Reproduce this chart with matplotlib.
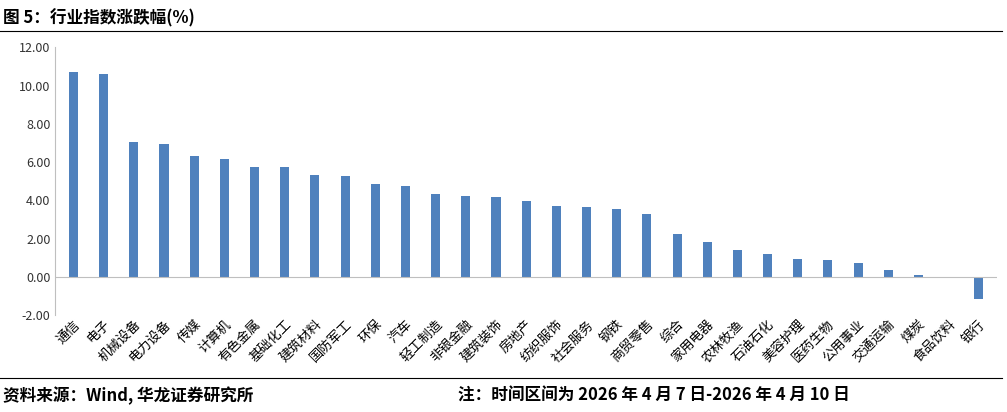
import matplotlib.pyplot as plt
from matplotlib.lines import Line2D

plt.rcParams['font.family'] = ['Noto Sans CJK SC', 'DejaVu Sans']

industries = ["通信", "电子", "机械设备", "电力设备", "传媒", "计算机", "有色金属", "基础化工",
              "建筑材料", "国防军工", "环保", "汽车", "轻工制造", "非银金融", "建筑装饰", "房地产",
              "纺织服饰", "社会服务", "钢铁", "商贸零售", "综合", "家用电器", "农林牧渔", "石油石化",
              "美容护理", "医药生物", "公用事业", "交通运输", "煤炭", "食品饮料", "银行"]
changes = [10.72, 10.62, 7.05, 6.95, 6.30, 6.15, 5.75, 5.75, 5.32, 5.25, 4.85, 4.75, 4.35,
           4.25, 4.20, 3.98, 3.72, 3.65, 3.55, 3.30, 2.25, 1.85, 1.40, 1.20, 0.95, 0.90,
           0.75, 0.35, 0.08, 0.02, -1.15]
y_ticks = [-2, 0, 2, 4, 6, 8, 10, 12]

fig = plt.figure(figsize=(10.07, 4.12), dpi=100)
ax = fig.add_axes([0.055, 0.235, 0.935, 0.65])

x = range(len(industries))
ax.bar(x, changes, width=0.3, color="#4F81BD")
ax.set_xlim(-0.6, len(industries) - 0.4)
ax.set_ylim(-2, 12)
ax.set_yticks(y_ticks)
ax.set_yticklabels([f"{v:.2f}" for v in y_ticks], fontsize=9, color="#333333")
ax.set_xticks(list(x))
ax.set_xticklabels(industries, rotation=45, ha="right", rotation_mode="anchor", fontsize=9.5)
ax.tick_params(axis="x", length=0, pad=2)
ax.tick_params(axis="y", length=0)
ax.axhline(0, color="#BFBFBF", lw=0.8)
for s in ["top", "right", "bottom"]:
    ax.spines[s].set_visible(False)
ax.spines["left"].set_color("#BFBFBF")

# title and footer
fig.text(0.003, 0.955, "图 5：行业指数涨跌幅(%)", fontsize=12, fontweight="bold", va="center")
fig.add_artist(Line2D([0, 0.995], [0.925, 0.925], color="black", lw=0.8))
fig.add_artist(Line2D([0, 0.995], [0.083, 0.083], color="black", lw=0.8))
fig.text(0.003, 0.04, "资料来源：Wind, 华龙证券研究所", fontsize=12, fontweight="bold", va="center")
fig.text(0.455, 0.04, "注：时间区间为 2026 年 4 月 7 日-2026 年 4 月 10 日", fontsize=12,
         fontweight="bold", va="center")

fig.savefig("out.png", dpi=100)
